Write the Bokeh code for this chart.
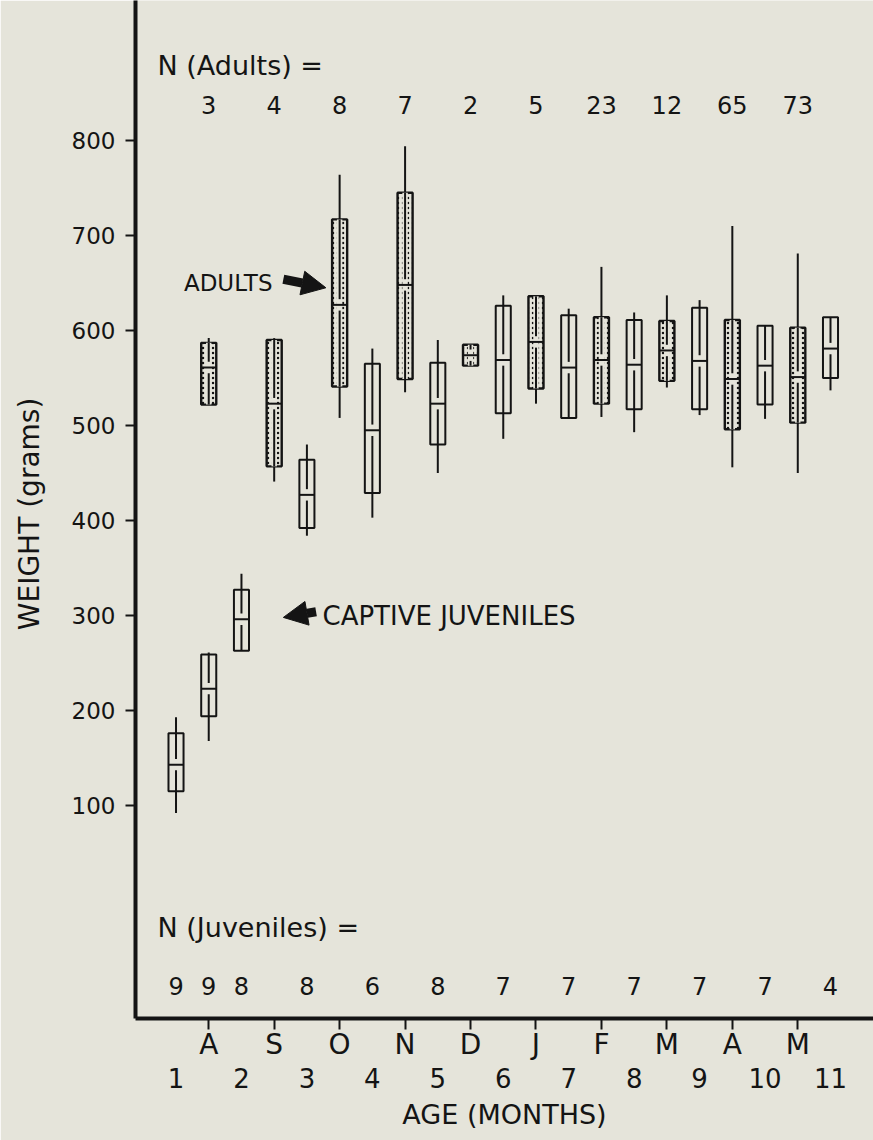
from bokeh.plotting import figure
from bokeh.models import Range1d, FixedTicker, LinearAxis, Arrow, NormalHead, ColumnDataSource
from bokeh.core.properties import value
from bokeh.embed import file_html
from bokeh.resources import INLINE

# ---------------- data ----------------
month_labels = ["A", "S", "O", "N", "D", "J", "F", "M", "A", "M"]
month_pos = [1.5, 2.5, 3.5, 4.5, 5.5, 6.5, 7.5, 8.5, 9.5, 10.5]
age_ticks = [1, 2, 3, 4, 5, 6, 7, 8, 9, 10, 11]
weight_ticks = [100, 200, 300, 400, 500, 600, 700, 800]

# adults (stippled boxes), one per calendar month
adult_x = [1.5, 2.5, 3.5, 4.5, 5.5, 6.5, 7.5, 8.5, 9.5, 10.5]
adult_n = ["3", "4", "8", "7", "2", "5", "23", "12", "65", "73"]
adult_lo = [522, 441, 508, 535, 563, 523, 509, 540, 456, 450]
adult_q1 = [522, 457, 541, 549, 563, 539, 523, 547, 496, 503]
adult_mid = [561, 523, 627, 648, 574, 588, 569, 579, 549, 551]
adult_q3 = [587, 590, 717, 745, 585, 636, 614, 610, 611, 603]
adult_hi = [592, 592, 764, 794, 585, 636, 667, 637, 710, 681]

# captive juveniles (plain boxes), by age in months
juv_x = [1, 1.5, 2, 3, 4, 5, 6, 7, 8, 9, 10, 11]
juv_n = ["9", "9", "8", "8", "6", "8", "7", "7", "7", "7", "7", "4"]
juv_lo = [92, 168, 263, 384, 403, 450, 486, 508, 493, 511, 507, 537]
juv_q1 = [115, 194, 263, 392, 429, 480, 513, 508, 517, 517, 522, 550]
juv_mid = [143, 223, 296, 427, 495, 523, 569, 561, 564, 568, 563, 581]
juv_q3 = [176, 259, 327, 464, 565, 566, 626, 616, 611, 624, 605, 614]
juv_hi = [193, 261, 344, 480, 581, 590, 637, 623, 619, 632, 605, 614]

# ---------------- style ----------------
BG = "#e5e4da"
INK = "#141414"
FONT = "DejaVu Sans"
BOX_W = 0.23
GAP = 6  # grams gap of the inner range line around the mean

p = figure(width=873, height=1140, output_backend="svg", toolbar_location=None,
           x_range=Range1d(0.381, 11.657), y_range=Range1d(-124.2, 947.4),
           min_border_left=135, min_border_right=0, min_border_top=0, min_border_bottom=122)
p.background_fill_color = BG
p.border_fill_color = BG
p.outline_line_color = None
p.xgrid.visible = False
p.ygrid.visible = False

# y axis
ya = p.yaxis[0]
ya.ticker = FixedTicker(ticks=weight_ticks)
ya.axis_line_width = 4
ya.axis_line_color = INK
ya.major_tick_out = 10
ya.major_tick_in = 0
ya.major_tick_line_width = 2
ya.major_tick_line_color = INK
ya.minor_tick_line_color = None
ya.major_label_standoff = 10
ya.major_label_text_font = FONT
ya.major_label_text_font_size = "23px"
ya.major_label_text_color = INK
ya.axis_label = "WEIGHT  (grams)"
ya.axis_label_text_font = FONT
ya.axis_label_text_font_size = "28px"
ya.axis_label_text_font_style = "normal"
ya.axis_label_text_color = INK
ya.axis_label_standoff = 23

# x axis: months
xa = p.xaxis[0]
xa.ticker = FixedTicker(ticks=month_pos)
xa.major_label_overrides = {m: lab for m, lab in zip(month_pos, month_labels)}
xa.axis_line_width = 4
xa.axis_line_color = INK
xa.major_tick_out = 11
xa.major_tick_in = 0
xa.major_tick_line_width = 2
xa.major_tick_line_color = INK
xa.minor_tick_line_color = None
xa.major_label_standoff = -2
xa.major_label_text_font = FONT
xa.major_label_text_font_size = "28px"
xa.major_label_text_color = INK

# x axis: age in months
xa2 = LinearAxis(ticker=FixedTicker(ticks=age_ticks))
xa2.axis_line_color = None
xa2.major_tick_line_color = None
xa2.minor_tick_line_color = None
xa2.major_tick_out = 0
xa2.major_tick_in = 0
xa2.major_label_standoff = 4
xa2.major_label_text_font = FONT
xa2.major_label_text_font_size = "26px"
xa2.major_label_text_color = INK
xa2.axis_label = "AGE (MONTHS)"
xa2.axis_label_text_font = FONT
xa2.axis_label_text_font_size = "27px"
xa2.axis_label_text_font_style = "normal"
xa2.axis_label_text_color = INK
xa2.axis_label_standoff = 8
p.add_layout(xa2, "below")

# ---------------- boxes ----------------
def inner_lines(xs, q1, mid, q3):
    x0, y0, x1, y1 = [], [], [], []
    for x, a, m, b in zip(xs, q1, mid, q3):
        if b - GAP > m:
            x0.append(x); y0.append(m + GAP); x1.append(x); y1.append(b)
        if m - GAP > a:
            x0.append(x); y0.append(a); x1.append(x); y1.append(m - GAP)
    return dict(x0=x0, y0=y0, x1=x1, y1=y1)

def make_src(xs, lo, q1, mid, q3, hi):
    return ColumnDataSource(dict(x=xs, lo=lo, q1=q1, mid=mid, q3=q3, hi=hi,
                                 left=[x - BOX_W / 2 for x in xs],
                                 right=[x + BOX_W / 2 for x in xs]))

juv = make_src(juv_x, juv_lo, juv_q1, juv_mid, juv_q3, juv_hi)
ad = make_src(adult_x, adult_lo, adult_q1, adult_mid, adult_q3, adult_hi)

for src in (juv, ad):
    p.segment(x0="x", y0="lo", x1="x", y1="q1", source=src, line_color=INK, line_width=2)
    p.segment(x0="x", y0="q3", x1="x", y1="hi", source=src, line_color=INK, line_width=2)

# juvenile boxes (plain)
p.vbar(x="x", width=BOX_W, bottom="q1", top="q3", source=juv,
       fill_color=BG, line_color=INK, line_width=2)
# adult boxes (stippled edges)
p.vbar(x="x", width=BOX_W, bottom="q1", top="q3", source=ad,
       fill_color=BG, line_color=INK, line_width=2.4,
       hatch_pattern="dot", hatch_color=INK, hatch_scale=5, hatch_weight=2)
p.vbar(x="x", width=BOX_W * 0.36, bottom="q1", top="q3", source=ad,
       fill_color=BG, line_color=None)

for xs, q1, mid, q3 in ((juv_x, juv_q1, juv_mid, juv_q3), (adult_x, adult_q1, adult_mid, adult_q3)):
    p.segment(x0="x0", y0="y0", x1="x1", y1="y1", source=ColumnDataSource(inner_lines(xs, q1, mid, q3)),
              line_color=INK, line_width=2)

for src in (juv, ad):
    p.segment(x0="left", y0="mid", x1="right", y1="mid", source=src, line_color=INK, line_width=2)

# ---------------- sample sizes ----------------
Y_ADULT_HDR, Y_ADULT_N = 879, 837
Y_JUV_HDR, Y_JUV_N = -28, -89.5
X_HDR = 0.717

p.text(x=[X_HDR], y=[Y_ADULT_HDR], text=["N (Adults) ="], text_font=value(FONT),
       text_font_size="27px", text_color=INK, text_align="left", text_baseline="middle")
p.text(x=adult_x, y=[Y_ADULT_N] * len(adult_x), text=adult_n, text_font=value(FONT),
       text_font_size="24px", text_color=INK, text_align="center", text_baseline="middle")
p.text(x=[X_HDR], y=[Y_JUV_HDR], text=["N (Juveniles) ="], text_font=value(FONT),
       text_font_size="27px", text_color=INK, text_align="left", text_baseline="middle")
p.text(x=juv_x, y=[Y_JUV_N] * len(juv_x), text=juv_n, text_font=value(FONT),
       text_font_size="24px", text_color=INK, text_align="center", text_baseline="middle")

# ---------------- annotations ----------------
p.text(x=[2.474], y=[650.5], text=["ADULTS"], text_font=value(FONT), text_font_size="23px",
       text_color=INK, text_align="right", text_baseline="middle")
p.add_layout(Arrow(end=NormalHead(size=24, fill_color=INK, line_color=INK, line_width=1),
                   x_start=2.64, y_start=654, x_end=3.29, y_end=645,
                   line_color=INK, line_width=9))
p.text(x=[3.238], y=[299], text=["CAPTIVE JUVENILES"], text_font=value(FONT), text_font_size="26px",
       text_color=INK, text_align="left", text_baseline="middle")
p.add_layout(Arrow(end=NormalHead(size=24, fill_color=INK, line_color=INK, line_width=1),
                   x_start=3.14, y_start=304, x_end=2.64, y_end=298,
                   line_color=INK, line_width=9))

open("out.html", "w").write(file_html(p, INLINE))
